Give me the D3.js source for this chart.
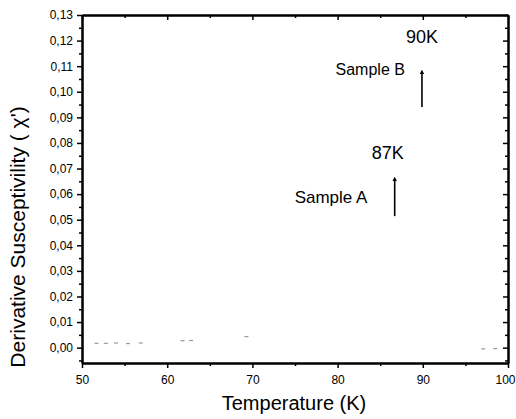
<!DOCTYPE html>
<html>
<head>
<meta charset="utf-8">
<script src="https://cdn.jsdelivr.net/npm/d3@7"></script>
<style>
  body { margin: 0; background: #fff; }
  svg { display: block; font-family: "Liberation Sans", Arial, sans-serif; }
</style>
</head>
<body>
<script>
const w = 516;
const h = 419;

// faint data points of the measured curve (T in K, chi')
const temps = [51.7, 52.8, 54.0, 55.4, 56.9, 61.8, 62.8, 69.3, 97.1, 98.5];
const chi = [0.0017, 0.0017, 0.0018, 0.0016, 0.0018, 0.0027, 0.0028, 0.0043, -0.0005, -0.0004];

// annotations
const labelTexts = ["90K", "Sample B", "87K", "Sample A"];
const labelT = [89.9, 87.9, 85.9, 83.5];
const labelChi = [0.119, 0.1065, 0.0737, 0.0565];
const arrowT = [89.9, 86.7];
const arrowFrom = [0.094, 0.0514];
const arrowTo = [0.1077, 0.0659];

const xTicks = [50, 60, 70, 80, 90, 100];
const yTicks = [0, 0.01, 0.02, 0.03, 0.04, 0.05, 0.06, 0.07, 0.08, 0.09, 0.10, 0.11, 0.12, 0.13];

const margin = { top: 15, right: 8, bottom: 56, left: 82 };
const iw = w - margin.left - margin.right;
const ih = h - margin.top - margin.bottom;

const x = d3.scaleLinear().domain([50, 100]).range([0, iw]);
const y = d3.scaleLinear().domain([-0.006, 0.13]).range([ih, 0]);

const svg = d3.select("body").append("svg").attr("width", w).attr("height", h);
const g = svg.append("g").attr("transform", `translate(${margin.left},${margin.top})`);

const fmt = d => d3.format(".2f")(d).replace(".", ",");
const xMinor = d3.range(55, 100, 10);
const yMinor = d3.range(-0.005, 0.13, 0.01);

// bottom axis (outward ticks)
const axBottom = g.append("g").attr("transform", `translate(0,${ih})`)
  .call(d3.axisBottom(x).tickValues(xTicks).tickSize(5).tickSizeOuter(0).tickFormat(d3.format("d")));
axBottom.append("g").call(d3.axisBottom(x).tickValues(xMinor).tickSize(3).tickSizeOuter(0).tickFormat(""));

// left axis (outward ticks)
const axLeft = g.append("g")
  .call(d3.axisLeft(y).tickValues(yTicks).tickSize(5).tickSizeOuter(0).tickFormat(fmt));
axLeft.append("g").call(d3.axisLeft(y).tickValues(yMinor).tickSize(3).tickSizeOuter(0).tickFormat(""));

// top axis (inward ticks)
const axTop = g.append("g")
  .call(d3.axisBottom(x).tickValues(xTicks).tickSize(5).tickSizeOuter(0).tickFormat(""));
axTop.append("g").call(d3.axisBottom(x).tickValues(xMinor).tickSize(3).tickSizeOuter(0).tickFormat(""));

// right axis (inward ticks)
const axRight = g.append("g").attr("transform", `translate(${iw},0)`)
  .call(d3.axisLeft(y).tickValues(yTicks).tickSize(5).tickSizeOuter(0).tickFormat(""));
axRight.append("g").call(d3.axisLeft(y).tickValues(yMinor).tickSize(3).tickSizeOuter(0).tickFormat(""));

g.selectAll(".domain").attr("stroke", "#000").attr("stroke-width", 2);
g.selectAll(".tick line").attr("stroke", "#000").attr("stroke-width", 1.5);
g.selectAll(".tick text").attr("fill", "#000").style("font-size", "12px");
axBottom.selectAll(".tick text").attr("dy", "1.05em");
axBottom.selectAll(".tick text").filter(d => d === 100).attr("text-anchor", "end").attr("dx", "7px");
axLeft.selectAll(".tick text").attr("dx", "-1px");

// data (faint scan dashes)
g.selectAll(".pt")
  .data(temps.map((t, i) => [t, chi[i]]))
  .enter()
  .append("line")
  .attr("class", "pt")
  .attr("x1", d => x(d[0]) - 2)
  .attr("x2", d => x(d[0]) + 2)
  .attr("y1", d => y(d[1]))
  .attr("y2", d => y(d[1]))
  .attr("stroke", "#999")
  .attr("stroke-width", 1.2);

// arrows
const defs = svg.append("defs");
defs.append("marker")
  .attr("id", "head")
  .attr("viewBox", "0 0 6 6")
  .attr("refX", 3).attr("refY", 3)
  .attr("markerWidth", 3).attr("markerHeight", 3)
  .attr("orient", "auto")
  .append("path").attr("d", "M0,0 L6,3 L0,6 Z").attr("fill", "#000");

arrowT.forEach((t, i) => {
  g.append("line")
    .attr("x1", x(t)).attr("x2", x(t))
    .attr("y1", y(arrowFrom[i])).attr("y2", y(arrowTo[i]))
    .attr("stroke", "#000").attr("stroke-width", 1.6)
    .attr("marker-end", "url(#head)");
});

// annotation labels
const anchors = ["middle", "end", "middle", "end"];
const sizes = ["18px", "16px", "18px", "17px"];
labelTexts.forEach((txt, i) => {
  g.append("text")
    .attr("x", x(labelT[i]))
    .attr("y", y(labelChi[i]))
    .attr("text-anchor", anchors[i])
    .style("font-size", sizes[i])
    .text(txt);
});

// axis titles
svg.append("text")
  .attr("x", margin.left + iw / 2 - 1)
  .attr("y", 410)
  .attr("text-anchor", "middle")
  .style("font-size", "20px")
  .text("Temperature (K)");

svg.append("text")
  .attr("transform", `translate(25,${237}) rotate(-90)`)
  .attr("text-anchor", "middle")
  .style("font-size", "21px")
  .text("Derivative Susceptivility ( χ')");
</script>
</body>
</html>
